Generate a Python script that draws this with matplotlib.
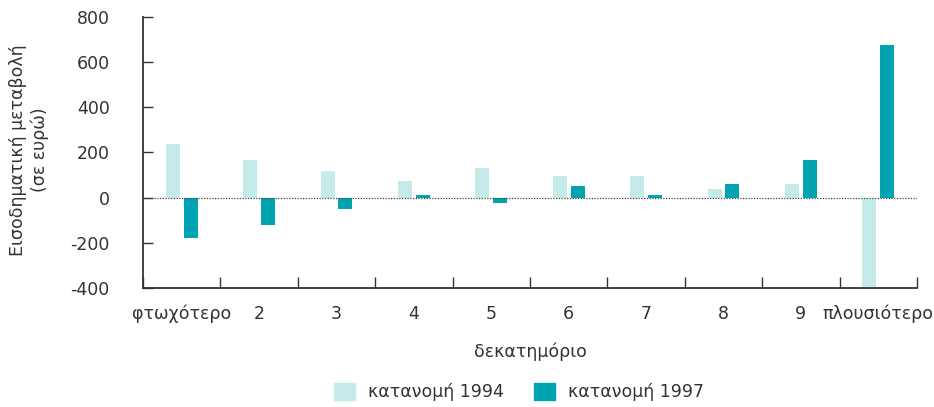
import matplotlib
matplotlib.use("Agg")
import matplotlib.pyplot as plt
from matplotlib.patches import Patch
import numpy as np

plt.rcParams['font.family'] = ['DejaVu Sans']

categories = ["φτωχότερο", "2", "3", "4", "5", "6", "7", "8", "9", "πλουσιότερο"]
values_1994 = [238, 167, 118, 74, 131, 96, 96, 38, 61, -395]
values_1997 = [-180, -120, -50, 12, -25, 50, 12, 61, 167, 676]
yticks = [-400, -200, 0, 200, 400, 600, 800]

light = "#c4ebea"
dark = "#00a4b0"
txt = "#333333"
fs = 12.5

fig = plt.figure(figsize=(9.34, 4.07), dpi=100)
ax = fig.add_axes([143/934, 1-288/407, (917-143)/934, (288-17)/407])

x = np.arange(1, len(categories) + 1)
w = 0.18
off = 0.115
ax.bar(x - off, values_1994, w, color=light, label="κατανομή 1994", zorder=2)
ax.bar(x + off, values_1997, w, color=dark, label="κατανομή 1997", zorder=2)

ax.axhline(0, color="#444444", lw=0.9, ls=(0, (1, 1.2)), zorder=3)

ax.set_xlim(0.5, len(categories) + 0.5)
ax.set_ylim(-400, 800)
ax.set_yticks(yticks)
ax.set_yticklabels([str(v) for v in yticks], fontsize=fs, color=txt)

# boundary ticks (major), labels at centers (minor)
ax.set_xticks(np.arange(0.5, len(categories) + 1, 1.0))
ax.set_xticklabels([])
ax.set_xticks(x, minor=True)
ax.set_xticklabels(categories, minor=True, fontsize=fs, color=txt)
ax.tick_params(axis='x', which='major', direction='in', length=8, width=1, color="#333333")
ax.tick_params(axis='x', which='minor', length=0, pad=12)
ax.tick_params(axis='y', direction='in', length=7, width=1, color="#333333", pad=24)

for s in ["top", "right"]:
    ax.spines[s].set_visible(False)
for s in ["left", "bottom"]:
    ax.spines[s].set_color("#333333")
    ax.spines[s].set_linewidth(1.3)

fig.text(0.5*(143+917)/934, 1-352/407, "δεκατημόριο", fontsize=fs, color=txt,
         ha="center", va="center")
fig.text(29/934, 1-150/407, "Εισοδηματική μεταβολή\n(σε ευρώ)", fontsize=fs, color=txt,
         ha="center", va="center", rotation=90, linespacing=1.25, multialignment="center")

handles = [Patch(color=light, label="κατανομή 1994"), Patch(color=dark, label="κατανομή 1997")]
fig.legend(handles=handles, loc="center", bbox_to_anchor=(519/934, 1-392/407), ncol=2,
           frameon=False, fontsize=fs, handlelength=1.2, handleheight=1.2,
           columnspacing=1.7, handletextpad=0.75, labelcolor=txt)

fig.savefig("out.png", dpi=100)
